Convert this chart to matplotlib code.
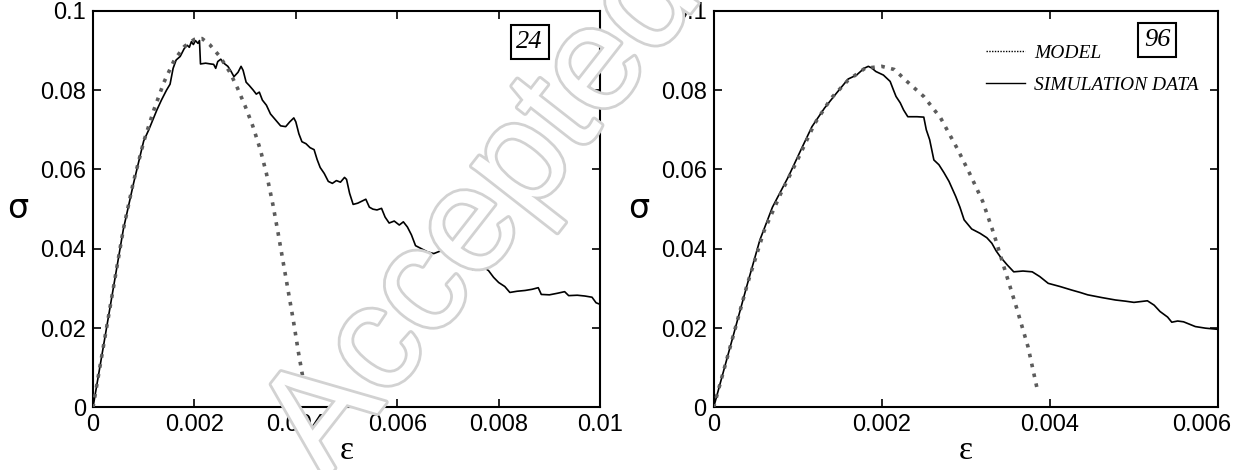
import matplotlib
matplotlib.use("Agg")
import matplotlib.pyplot as plt
import matplotlib.patheffects as pe
from matplotlib.lines import Line2D
from matplotlib.font_manager import FontProperties
from matplotlib.transforms import ScaledTranslation

# ---------------------------------------------------------------------------
# Data (strain eps, stress sigma)
# ---------------------------------------------------------------------------
# panel "24"
eps_model_24 = [0, 0.0002, 0.0004, 0.0006, 0.0008, 0.0010, 0.0012, 0.0014, 0.0016,
                0.0018, 0.0020, 0.00215, 0.0023, 0.0025, 0.0027, 0.00285, 0.0030,
                0.00315, 0.0033, 0.00342, 0.00355, 0.00365, 0.0038, 0.00395,
                0.00405, 0.00416]
sig_model_24 = [0, 0.015, 0.030, 0.045, 0.057, 0.067, 0.075, 0.082, 0.0875,
                0.091, 0.0928, 0.093, 0.0915, 0.0885, 0.0845, 0.0805, 0.076,
                0.071, 0.065, 0.059, 0.051, 0.044, 0.033, 0.022, 0.014, 0.006]

eps_sim_24 = [0, 0.0002, 0.0004, 0.0006, 0.0008, 0.0010, 0.0011, 0.00126, 0.00135,
              0.00145, 0.00152, 0.00158, 0.00164, 0.00172, 0.00180, 0.00186, 0.00190,
              0.00194, 0.00198, 0.00202, 0.00207, 0.00210, 0.00212, 0.00222, 0.00232,
              0.00238, 0.00242, 0.00246, 0.00252, 0.00258, 0.00266, 0.00272, 0.00278,
              0.00286, 0.00292, 0.00296, 0.00302, 0.00308, 0.00316, 0.00322, 0.00328,
              0.00334, 0.00342, 0.00350, 0.00360, 0.00370, 0.00380, 0.00388, 0.00396,
              0.00400, 0.00406, 0.00412, 0.00420, 0.00428, 0.00436, 0.00442, 0.00448,
              0.00456, 0.00464, 0.00472, 0.00480, 0.00488, 0.00496, 0.00500, 0.00506,
              0.00513, 0.00522, 0.00530, 0.00538, 0.00545, 0.00552, 0.00560, 0.00569,
              0.00576, 0.00584, 0.00594, 0.00604, 0.00612, 0.00620, 0.00628, 0.00636,
              0.00648, 0.00660, 0.00672, 0.00684, 0.00696, 0.00704, 0.00716, 0.00726,
              0.00738, 0.00748, 0.00760, 0.00772, 0.00780, 0.00790, 0.00800, 0.00812,
              0.00822, 0.00836, 0.00852, 0.00866, 0.00878, 0.00884, 0.00900, 0.00916,
              0.00930, 0.00938, 0.00955, 0.00970, 0.00984, 0.00992, 0.0100]
sig_sim_24 = [0, 0.015, 0.030, 0.045, 0.0565, 0.0672, 0.0700, 0.0750, 0.0775,
              0.0800, 0.0815, 0.0855, 0.0876, 0.0885, 0.0905, 0.0913, 0.0908,
              0.0922, 0.0915, 0.0925, 0.0918, 0.0925, 0.0866, 0.0868, 0.0866,
              0.0865, 0.0855, 0.0872, 0.0878, 0.0868, 0.0860, 0.0848, 0.0834,
              0.0845, 0.0860, 0.0850, 0.0820, 0.0812, 0.0800, 0.0790, 0.0795,
              0.0775, 0.0762, 0.0740, 0.0725, 0.0710, 0.0708, 0.0720, 0.0730,
              0.0720, 0.0690, 0.0670, 0.0665, 0.0655, 0.0650, 0.0625, 0.0605,
              0.0590, 0.0570, 0.0565, 0.0572, 0.0568, 0.0580, 0.0575, 0.0540,
              0.0512, 0.0515, 0.0520, 0.0525, 0.0505, 0.0500, 0.0498, 0.0502,
              0.0480, 0.0465, 0.0470, 0.0460, 0.0468, 0.0455, 0.0435, 0.0408,
              0.0400, 0.0392, 0.0388, 0.0394, 0.0393, 0.0378, 0.0380, 0.0372,
              0.0365, 0.0348, 0.0352, 0.0352, 0.0345, 0.0328, 0.0315, 0.0305,
              0.0290, 0.0293, 0.0295, 0.0298, 0.0302, 0.0285, 0.0284, 0.0288,
              0.0292, 0.0282, 0.0283, 0.0281, 0.0278, 0.0264, 0.0260]

# panel "96"
eps_model_96 = [0, 0.0002, 0.0004, 0.0006, 0.0008, 0.0010, 0.0012, 0.0014, 0.0016,
                0.0018, 0.0020, 0.00215, 0.0023, 0.0025, 0.0027, 0.0029, 0.00305,
                0.0032, 0.00333, 0.00346, 0.0036, 0.00374, 0.00386]
sig_model_96 = [0, 0.0155, 0.031, 0.0445, 0.054, 0.0625, 0.0715, 0.078, 0.0825,
                0.0855, 0.0860, 0.0852, 0.0822, 0.0784, 0.0730, 0.0652, 0.0588,
                0.0520, 0.0440, 0.0350, 0.0254, 0.0153, 0.0036]

eps_sim_96 = [0, 0.0002, 0.0004, 0.00055, 0.0007, 0.00089, 0.00104, 0.00117, 0.00132,
              0.00146, 0.0016, 0.0017, 0.00179, 0.00184, 0.00188, 0.00193, 0.00202,
              0.0021, 0.00214, 0.00217, 0.00222, 0.00226, 0.00231, 0.00242, 0.0025,
              0.00253, 0.00257, 0.00262, 0.00268, 0.00274, 0.0028, 0.00288, 0.00293,
              0.00298, 0.00307, 0.00317, 0.00325, 0.00331, 0.00336, 0.00341, 0.00349,
              0.00357, 0.00368, 0.00379, 0.00388, 0.00398, 0.00412, 0.00426, 0.00436,
              0.00445, 0.00462, 0.00478, 0.0049, 0.005, 0.00516, 0.00524, 0.00531,
              0.0054, 0.00545, 0.00552, 0.00559, 0.00566, 0.00573, 0.00585, 0.006]
sig_sim_96 = [0, 0.0155, 0.031, 0.0422, 0.0505, 0.0582, 0.065, 0.0708, 0.0755,
              0.0792, 0.0828, 0.0838, 0.0855, 0.0860, 0.0856, 0.0847, 0.0838,
              0.0822, 0.0800, 0.0784, 0.0768, 0.0750, 0.0733, 0.0733, 0.0732,
              0.0700, 0.0675, 0.0624, 0.0612, 0.0592, 0.0570, 0.0532, 0.0505,
              0.0473, 0.0450, 0.0439, 0.0428, 0.0414, 0.0395, 0.0380, 0.0360,
              0.0342, 0.0344, 0.0342, 0.0330, 0.0313, 0.0305, 0.0296, 0.0290,
              0.0284, 0.0277, 0.0271, 0.0268, 0.0265, 0.0269, 0.0258, 0.0242,
              0.0228, 0.0215, 0.0218, 0.0216, 0.0210, 0.0204, 0.0200, 0.0197]

yticks = [0, 0.02, 0.04, 0.06, 0.08, 0.1]
ytick_labels = ["0", "0.02", "0.04", "0.06", "0.08", "0.1"]
xticks_24 = [0, 0.002, 0.004, 0.006, 0.008, 0.01]
xtick_labels_24 = ["0", "0.002", "0.004", "0.006", "0.008", "0.01"]
xticks_96 = [0, 0.002, 0.004, 0.006]
xtick_labels_96 = ["0", "0.002", "0.004", "0.006"]

# ---------------------------------------------------------------------------
# Plot
# ---------------------------------------------------------------------------
MODEL_COLOR = "#5c5c5c"
SANS = "Liberation Sans"
SERIF = "Liberation Serif"

fig = plt.figure(figsize=(12.43, 4.70), dpi=100)
ax1 = fig.add_axes([0.0748, 0.133, 0.408, 0.844])
ax2 = fig.add_axes([0.5741, 0.133, 0.4058, 0.844])

panels = [
    (ax1, eps_model_24, sig_model_24, eps_sim_24, sig_sim_24, xticks_24, xtick_labels_24, 0.01),
    (ax2, eps_model_96, sig_model_96, eps_sim_96, sig_sim_96, xticks_96, xtick_labels_96, 0.006),
]

for ax, em, sm, es, ss, xt, xtl, xmax in panels:
    ax.plot(es, ss, color="black", linewidth=1.2, zorder=3)
    ax.plot(em, sm, color=MODEL_COLOR, linewidth=2.6, linestyle=(0, (1, 1.8)), zorder=4)
    ax.set_xlim(0, xmax)
    ax.set_ylim(0, 0.1)
    ax.set_xticks(xt)
    ax.set_xticklabels(xtl, fontsize=17, family=SANS)
    ax.set_yticks(yticks)
    ax.set_yticklabels(ytick_labels, fontsize=17, family=SANS)
    ax.tick_params(direction="in", length=6, width=1.2, top=True, right=True, pad=5)
    for sp in ax.spines.values():
        sp.set_linewidth(1.5)
    ax.set_ylabel("\u03c3", fontsize=24, family="DejaVu Sans", rotation=0)
    ax.set_xlabel("\u03b5", fontsize=24, family=SERIF)
    ax.yaxis.set_label_coords(-0.148, 0.46)
    ax.xaxis.set_label_coords(0.5, -0.07)

# last x label of the right panel sits pulled in from the figure edge
last = ax2.get_xticklabels()[-1]
last.set_transform(last.get_transform() + ScaledTranslation(-0.16, 0, fig.dpi_scale_trans))

box = dict(boxstyle="square,pad=0.22", facecolor="white", edgecolor="black", linewidth=1.5)
ax1.text(0.861, 0.921, "24", transform=ax1.transAxes, fontsize=19, family=SERIF,
         style="italic", ha="center", va="center", bbox=box)
ax2.text(0.879, 0.926, "96", transform=ax2.transAxes, fontsize=19, family=SERIF,
         style="italic", ha="center", va="center", bbox=box)

handles = [Line2D([], [], color="black", linewidth=1.0, linestyle=(0, (1, 1))),
           Line2D([], [], color="black", linewidth=1.0)]
ax2.legend(handles, ["MODEL", "SIMULATION DATA"], loc="upper left",
           bbox_to_anchor=(0.52, 0.94), frameon=False, borderpad=0,
           prop=FontProperties(family=SERIF, style="italic", size=14),
           handlelength=2.0, handletextpad=0.5, labelspacing=0.75)

# watermark
fig.text(0.262, -0.02, "Accepted Manuscript", rotation=52, rotation_mode="anchor",
         fontsize=106, family=SANS, color="white", ha="left", va="baseline",
         path_effects=[pe.withStroke(linewidth=4, foreground="#d2d2d2")], zorder=20)

fig.savefig("out.png", dpi=100)
